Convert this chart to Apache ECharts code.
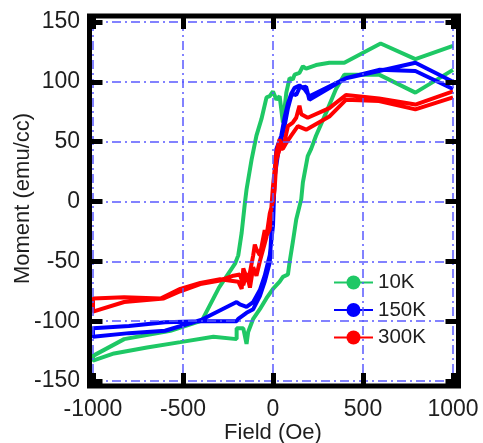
<!DOCTYPE html>
<html>
<head>
<meta charset="utf-8">
<script src="https://cdn.jsdelivr.net/npm/echarts@6/dist/echarts.min.js"></script>
<style>
  html, body { margin: 0; padding: 0; background: #fff; }
  #chart { width: 483px; height: 443px; }
</style>
</head>
<body>
<div id="chart"></div>
<script>
// Hysteresis loops M(H): each series runs the descending branch (+H to -H), then the ascending one.
const seriesNames = ['10K', '150K', '300K'];
const xTitle = 'Field (Oe)';
const yTitle = 'Moment (emu/cc)';

const field10K = [1000, 791, 598, 396, 313, 239, 184, 166, 147, 120, 110, 92, 74, 55, 37, 19, 0, -18, -36, -64, -92, -119, -147, -156, -174, -193, -211, -300, -395, -570, -827, -1000,
  -1000, -883, -700, -515, -331, -202, -202, -165, -147, -138, -110, -73, -37, 0, 37, 55, 83, 92, 110, 129, 157, 166, 193, 212, 239, 303, 350, 396, 589, 791, 1000];
const moment10K = [130, 119, 132, 116, 116, 114, 111, 113, 107.5, 106, 102, 103, 91, 66, 88, 85, 92, 88, 87, 69, 55, 35, 10, -1, -26, -45, -52, -72, -99.5, -108, -115, -129,
  -133, -127, -122, -117.5, -113, -115, -106, -106, -119, -109, -98, -90, -81, -73, -67, -63, -61, -51, -34, -15, 2, 16, 38, 44, 55, 77, 94, 106, 106, 91, 110];

const field150K = [1000, 791, 589, 405, 202, 184, 147, 129, 110, 101, 83, 64, 46, 28, 9, 0, -9, -18, -46, -73, -110, -147, -193, -202, -400, -600, -800, -1000,
  -1000, -800, -600, -400, -202, -184, -165, -147, -110, -73, -46, -18, 0, 9, 19, 28, 46, 64, 83, 101, 120, 147, 175, 202, 405, 589, 791, 1000];
const moment150K = [100, 116, 109, 103, 85, 96, 95, 89, 90, 88, 78, 63, 52, 40, 20, 2, -26, -51, -67, -79, -90, -93, -98, -100, -100, -101, -104, -106,
  -113, -110, -108, -99, -84, -86, -87, -88, -84, -74, -62, -45, -20, 20, 44, 45, 55, 70, 82, 90, 95, 97, 94, 88, 103, 110, 109, 94];

const field300K = [1000, 791, 589, 405, 313, 193, 157, 147, 129, 110, 83, 55, 37, 19, 0, -18, -37, -46, -73, -92, -101, -110, -138, -165, -174, -193, -294, -404, -515, -625, -827, -1000,
  -1000, -827, -607, -515, -404, -294, -220, -184, -165, -147, -128, -110, -92, -73, -55, -37, -18, 0, 9, 19, 37, 55, 74, 101, 138, 184, 313, 405, 589, 791, 1000];
const moment300K = [92, 81, 86, 89, 78, 70, 73, 80, 70, 66, 63, 44, 52, 41, 13, -23, -29, -24, -45, -40, -36, -45, -67, -56, -73, -67, -65, -68, -73, -81, -80, -81,
  -92, -84, -81, -75, -69, -66, -62, -61, -70, -60, -72, -55, -62, -50, -40, -30, -10, 0, 10, 35, 44, 44, 49, 55, 63, 60, 71, 85, 84, 77, 87];

const xTicks = { min: -1000, max: 1000, step: 500 };
const yTicks = { min: -150, max: 150, step: 50 };

const colors = ['#1ec865', '#0000ff', '#ff0000'];
const fieldSets = [field10K, field150K, field300K];
const momentSets = [moment10K, moment150K, moment300K];

const FONT = '"Liberation Sans", Arial, Helvetica, sans-serif';
const TEXT = '#1e1e1e';

const gridLine = { show: true, lineStyle: { color: '#5a5aff', width: 1.5, type: [9, 4, 2, 4] } };
const tick = { show: true, inside: true, length: 13, lineStyle: { color: '#000', width: 5 } };
const noLine = { show: false, onZero: false };
const plain = v => String(v);

const chart = echarts.init(document.getElementById('chart'), null, { renderer: 'canvas' });

chart.setOption({
  animation: false,
  backgroundColor: '#fff',
  grid: [
    { left: 93, right: 30, top: 22, bottom: 62, outerBoundsMode: 'none', containLabel: false },
    // heavy black box around the plot area
    { left: 89.5, right: 24.5, top: 16, bottom: 57, outerBoundsMode: 'none', containLabel: false,
      show: true, borderColor: '#000', borderWidth: 5, backgroundColor: 'transparent', z: 4 }
  ],
  xAxis: [
    {
      gridIndex: 0, type: 'value', position: 'bottom', offset: 5, z: 6,
      min: xTicks.min, max: xTicks.max, interval: xTicks.step,
      axisLine: noLine, axisTick: tick,
      axisLabel: { margin: 12.5, fontSize: 23, color: TEXT, fontFamily: FONT, formatter: plain },
      splitLine: gridLine
    },
    {
      gridIndex: 0, type: 'value', position: 'top', offset: 6, z: 6,
      min: xTicks.min, max: xTicks.max, interval: xTicks.step,
      axisLine: noLine, axisTick: tick, axisLabel: { show: false }, splitLine: { show: false }
    },
    { gridIndex: 1, type: 'value', show: false, min: 0, max: 1 }
  ],
  yAxis: [
    {
      gridIndex: 0, type: 'value', position: 'left', offset: 3.5, z: 6,
      min: yTicks.min, max: yTicks.max, interval: yTicks.step,
      axisLine: noLine, axisTick: tick,
      axisLabel: { margin: 9.5, fontSize: 23, color: TEXT, fontFamily: FONT, formatter: plain },
      splitLine: gridLine
    },
    {
      gridIndex: 0, type: 'value', position: 'right', offset: 5.5, z: 6,
      min: yTicks.min, max: yTicks.max, interval: yTicks.step,
      axisLine: noLine, axisTick: tick, axisLabel: { show: false }, splitLine: { show: false }
    },
    { gridIndex: 1, type: 'value', show: false, min: 0, max: 1 }
  ],
  // axis titles
  graphic: [
    {
      type: 'text', x: 273, y: 433,
      style: { text: xTitle, fill: TEXT, font: '22px ' + FONT, textAlign: 'center', textVerticalAlign: 'middle' }
    },
    {
      type: 'text', x: 23, y: 198.5, rotation: Math.PI / 2,
      style: { text: yTitle, fill: TEXT, font: '22px ' + FONT, textAlign: 'center', textVerticalAlign: 'middle' }
    }
  ],
  legend: {
    orient: 'vertical', left: 333, top: 272, padding: 0,
    itemWidth: 39, itemHeight: 17.5, itemGap: 6.5,
    textStyle: { fontSize: 20.5, lineHeight: 20, color: TEXT, fontFamily: FONT },
    data: seriesNames
  },
  series: seriesNames.map((name, i) => ({
    name: name,
    type: 'line',
    xAxisIndex: 0, yAxisIndex: 0,
    symbol: 'circle', showSymbol: false, symbolSize: 14,
    color: colors[i],
    lineStyle: { color: colors[i], width: 4 },
    z: 3,
    data: fieldSets[i].map((h, k) => [h, momentSets[i][k]])
  }))
});
</script>
</body>
</html>
